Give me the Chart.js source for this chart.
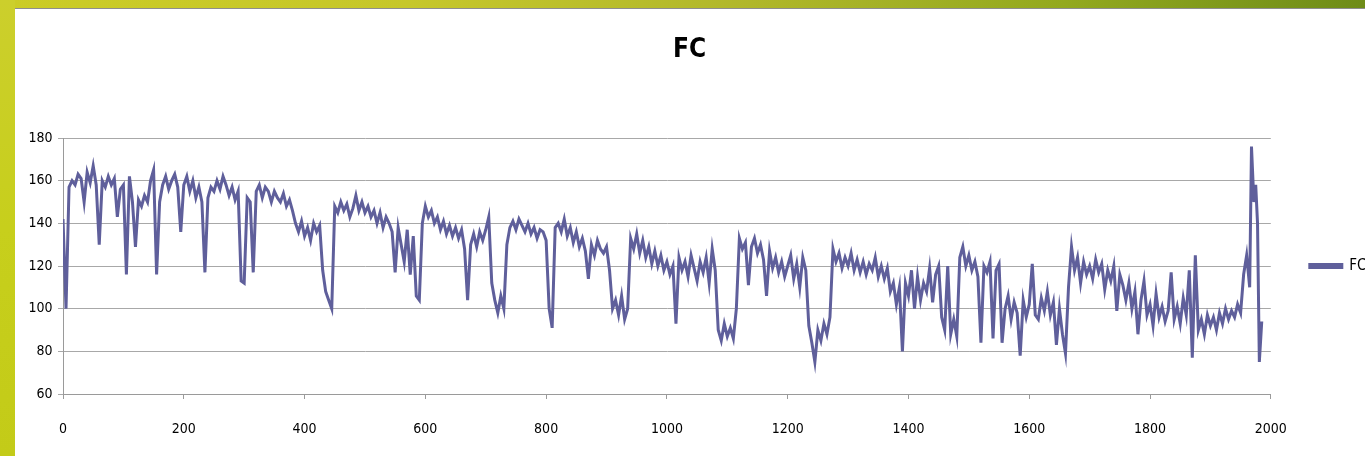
<!DOCTYPE html>
<html>
<head>
<meta charset="utf-8">
<script src="https://cdn.jsdelivr.net/npm/chart.js@4"></script>
<style>
html,body{margin:0;padding:0;width:1365px;height:456px;overflow:hidden;}
body{position:relative;background:linear-gradient(90deg,#cbcc26 0%,#c6c72a 30%,#b0b72a 55%,#93a91f 78%,#6e8c18 100%);}
#leftbar{position:absolute;left:0;top:0;width:15px;height:456px;background:linear-gradient(180deg,#cccf2c 0%,#c7cf1c 50%,#c3cb18 100%);}
#topline{position:absolute;left:15px;top:8px;width:1350px;height:1px;background:#8e8e8e;}
#panel{position:absolute;left:15px;top:9px;width:1350px;height:447px;background:#fff;}
#wrap{position:absolute;left:0;top:0;width:1365px;height:447px;}
</style>
</head>
<body>
<div id="leftbar"></div>
<div id="topline"></div>
<div id="panel"><div id="wrap"><canvas id="c"></canvas></div></div>
<script>
// Sampled FC values, every 5 units from 0 to 1965, then the final spike.
const fcValues = [
  142,100,157,160,158,163,161,150,164,159,167,158,130,160,157,162,158,161,143,156,
  158,116,162,150,129,151,148,153,150,160,165,116,150,158,162,156,160,163,157,136,
  158,162,155,160,152,157,150,117,152,157,155,160,156,162,158,153,157,151,155,113,
  112,152,150,117,155,158,152,157,155,150,155,152,150,154,148,151,146,140,136,141,
  134,138,132,140,136,139,118,108,104,100,148,145,150,146,149,143,147,153,146,150,
  145,148,143,146,140,145,138,143,140,136,117,138,130,122,137,116,134,106,104,140,
  148,143,146,140,143,137,141,135,139,134,138,133,137,128,104,130,135,129,136,132,
  137,143,112,104,98,106,100,130,138,141,137,142,139,136,140,135,138,133,137,136,
  132,100,91,138,140,136,142,134,138,131,136,129,133,127,114,130,125,132,128,126,
  129,118,100,104,97,106,95,100,133,128,135,126,132,124,129,121,127,120,125,118,
  122,116,120,93,124,118,122,115,125,119,113,122,117,124,112,128,118,90,85,93,
  87,91,86,100,133,128,131,111,129,133,126,130,123,106,127,119,124,117,122,115,
  120,125,114,121,110,124,118,92,84,75,90,85,93,88,96,128,122,126,119,124,
  120,126,118,123,117,122,116,121,118,124,115,120,114,119,108,112,102,110,80,112,
  106,118,100,115,104,112,108,119,103,116,120,96,90,120,88,95,87,124,129,120,
  125,118,122,115,84,120,117,122,86,118,121,84,100,106,95,103,98,78,104,96,
  102,121,97,95,105,99,108,97,103,83,100,88,79,110,129,118,124,112,122,116,
  120,114,123,117,121,109,118,113,120,99,116,111,104,112,100,108,88,104,113,97,
  102,92,107,96,101,94,99,117,95,101,93,105,97,118,77,125,90,95,88,97,
  92,96,90,98,93,100,95,99,96,102,98,116,125,110,
  176,150,158,140,75,94
];
const regularStep = 5;
const regularEnd = 1965;
const tailX = [1968,1972,1975,1978,1981,1985];
const sampleX = [];
for (let x = 0; x <= regularEnd; x += regularStep) sampleX.push(x);
const xPositions = sampleX.concat(tailX);

const seriesLabel = 'FC';
const chartTitle = 'FC';
const yMin = 60, yMax = 180, yStep = 20;
const xMin = 0, xMax = 2000, xStep = 200;

const FONT = "'DejaVu Sans', sans-serif";
const lineColor = '#5f5f9b';

const points = xPositions.map((x, i) => ({x: x, y: fcValues[i]}));

new Chart(document.getElementById('c'), {
  type: 'line',
  data: {
    datasets: [{
      label: seriesLabel,
      data: points,
      borderColor: lineColor,
      backgroundColor: lineColor,
      borderWidth: 3,
      pointRadius: 0,
      tension: 0,
      fill: false
    }]
  },
  options: {
    responsive: true,
    maintainAspectRatio: false,
    animation: false,
    layout: {padding: {left: -12.5, right: 3.5, top: 0, bottom: 0}},
    plugins: {
      title: {
        display: true, text: chartTitle, color: '#000',
        font: {family: FONT, size: 26, weight: 'bold condensed'},
        padding: {top: 25.4, bottom: 72.4}
      },
      legend: {
        position: 'right', align: 'center', fullSize: false,
        labels: {boxWidth: 32, boxHeight: 3, padding: 39, color: '#000',
                 font: {family: FONT, size: 15, weight: 'condensed'}}
      },
      tooltip: {enabled: false}
    },
    scales: {
      x: {
        type: 'linear', min: xMin, max: xMax,
        afterFit: (s) => { s.height = 62; },
        ticks: {stepSize: xStep, color: '#000', font: {family: FONT, size: 14, weight: 'condensed'},
                padding: 22, maxRotation: 0, callback: (v) => String(v)},
        grid: {display: true, drawOnChartArea: false, drawTicks: true, tickLength: 5, color: '#9a9a9a'},
        border: {color: '#9a9a9a'}
      },
      y: {
        min: yMin, max: yMax,
        afterFit: (s) => { s.width = 60.5; },
        ticks: {stepSize: yStep, color: '#000', font: {family: FONT, size: 14, weight: 'condensed'},
                padding: 5.5, callback: (v) => String(v)},
        grid: {color: '#a8a8a8', tickLength: 5},
        border: {color: '#9a9a9a'}
      }
    }
  }
});
</script>
</body>
</html>
